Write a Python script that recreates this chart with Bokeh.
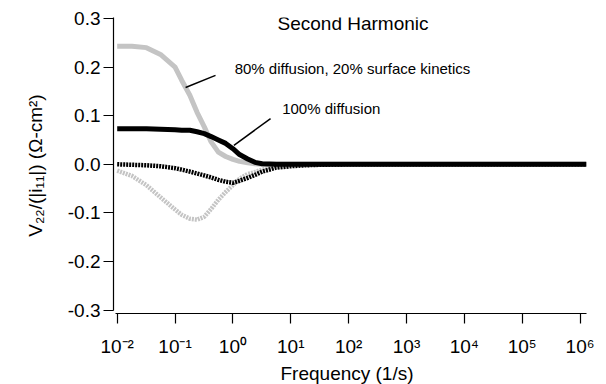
from bokeh.plotting import figure
from bokeh.layouts import column
from bokeh.models import Range1d, FixedTicker, Label, Title
from bokeh.core.properties import value
from bokeh.embed import file_html
from bokeh.resources import INLINE

# ---- data ----
freq = [0.01, 0.018, 0.032, 0.056, 0.1, 0.13, 0.18, 0.24, 0.32, 0.42, 0.56, 0.75,
        1.0, 1.3, 1.8, 2.4, 3.2, 5.6, 10, 18, 32, 100, 1e3, 1e4, 1e5, 1e6, 1.29e6]

# 80% diffusion, 20% surface kinetics (gray solid)
mixed_solid = [0.243, 0.243, 0.240, 0.226, 0.200, 0.173, 0.142, 0.107, 0.077, 0.046,
               0.025, 0.016, 0.010, 0.006, 0.003, 0.001, 0, 0, 0, 0, 0, 0, 0, 0, 0, 0, 0]
# 100% diffusion (black solid)
diff_solid = [0.073, 0.073, 0.073, 0.072, 0.071, 0.070, 0.070, 0.067, 0.063, 0.057,
              0.050, 0.043, 0.032, 0.020, 0.011, 0.004, 0.001, 0, 0, 0, 0, 0, 0, 0, 0, 0, 0]
# 100% diffusion, other component (black dotted)
diff_dot = [0.000, -0.001, -0.002, -0.004, -0.008, -0.011, -0.015, -0.019, -0.023, -0.027,
            -0.032, -0.036, -0.038, -0.034, -0.028, -0.022, -0.015, -0.007, -0.004, -0.002,
            -0.001, 0, 0, 0, 0, 0, 0]
# 80/20 mix, other component (gray dotted)
mixed_dot = [-0.013, -0.024, -0.043, -0.068, -0.093, -0.104, -0.112, -0.114, -0.108, -0.092,
             -0.073, -0.057, -0.043, -0.030, -0.020, -0.016, -0.011, -0.005, -0.002, -0.001,
             0, 0, 0, 0, 0, 0, 0]

x_ticks = [0.01, 0.1, 1, 10, 100, 1000, 10000, 100000, 1000000]
x_tick_labels = ["10\u207b\u00b2", "10\u207b\u00b9", "10\u2070", "10\u00b9", "10\u00b2",
                 "10\u00b3", "10\u2074", "10\u2075", "10\u2076"]
y_ticks = [-0.3, -0.2, -0.1, 0.0, 0.1, 0.2, 0.3]
y_tick_labels = ["-0.3", "-0.2", "-0.1", "0.0", "0.1", "0.2", "0.3"]

title_text = "Second Harmonic"
mixed_text = "80% diffusion, 20% surface kinetics"
diff_text = "100% diffusion"
x_label = "Frequency (1/s)"
y_label = "V\u2082\u2082/(|i\u2081\u2081|) (\u03a9-cm\u00b2)"

# leader lines for the annotations (data coordinates)
mixed_leader_x = [0.152, 0.5]
mixed_leader_y = [0.158, 0.183]
diff_leader_x = [1.04, 4.47]
diff_leader_y = [0.039, 0.094]

FONT = "Liberation Sans"
GRAY = "#c4c4c4"

p = figure(width=600, height=362, x_axis_type="log",
           x_range=Range1d(0.00863, 1.29e6), y_range=Range1d(-0.307, 0.302),
           output_backend="svg", toolbar_location=None,
           min_border_left=113, min_border_right=14, min_border_top=17, min_border_bottom=49)
p.outline_line_color = None
p.grid.visible = False
p.background_fill_color = "white"
p.border_fill_color = "white"

p.line(freq, mixed_dot, line_color=GRAY, line_width=4.5, line_dash="2 1")
p.line(freq, mixed_solid, line_color=GRAY, line_width=5, line_join="round")
p.line(freq, diff_dot, line_color="black", line_width=4.5, line_dash="2 1")
p.line(freq, diff_solid, line_color="black", line_width=5, line_join="round")

p.line(mixed_leader_x, mixed_leader_y, line_color="black", line_width=1.5)
p.line(diff_leader_x, diff_leader_y, line_color="black", line_width=1.5)

xa = p.xaxis[0]
xa.ticker = FixedTicker(ticks=x_ticks)
xa.major_label_overrides = dict(zip(x_ticks, x_tick_labels))
xa.bounds = (0.00935, 1.29e6)

ya = p.yaxis[0]
ya.ticker = FixedTicker(ticks=y_ticks)
ya.major_label_overrides = dict(zip(y_ticks, y_tick_labels))
ya.bounds = (-0.3, 0.302)

for ax in (xa, ya):
    ax.axis_line_color = "black"
    ax.axis_line_width = 1.2
    ax.major_tick_line_color = "black"
    ax.major_tick_line_width = 1.2
    ax.major_tick_in = 0
    ax.major_tick_out = 10
    ax.minor_tick_line_color = None
    ax.major_label_text_font = FONT
    ax.major_label_text_font_size = "19px"
    ax.major_label_text_color = "black"

xa.major_label_standoff = 12
ya.major_label_standoff = 3

# y-axis title as a left-side title, nudged down to sit where the reference has it
p.add_layout(Title(text=y_label, align="center", offset=-24, standoff=37,
                   text_font=FONT, text_font_size="19px", text_font_style="normal",
                   text_color="black"), "left")

p.add_layout(Label(x=5.9, y=0.290, text=title_text, text_font=FONT,
                   text_font_size="19px", text_baseline="alphabetic", text_color="black"))
p.add_layout(Label(x=1.07, y=0.197, text=mixed_text, text_font=FONT,
                   text_font_size="15px", text_baseline="alphabetic", text_color="black"))
p.add_layout(Label(x=7.1, y=0.115, text=diff_text, text_font=FONT,
                   text_font_size="15px", text_baseline="alphabetic", text_color="black"))

# strip below the chart carrying the x-axis title (its frame lines up with the main frame)
p2 = figure(width=600, height=22, x_range=Range1d(0, 1), y_range=Range1d(0, 1),
            x_axis_location=None, y_axis_location=None,
            output_backend="svg", toolbar_location=None, min_border=0)
p2.grid.visible = False
p2.outline_line_color = None
p2.background_fill_color = "white"
p2.border_fill_color = "white"
p2.text(x=[0.4937], y=[0.50], text=[x_label], text_font=value(FONT),
        text_font_size="19px", text_align="center", text_baseline="alphabetic",
        text_color="black")

layout = column(p, p2, spacing=0)
open("out.html", "w").write(file_html(layout, INLINE))
